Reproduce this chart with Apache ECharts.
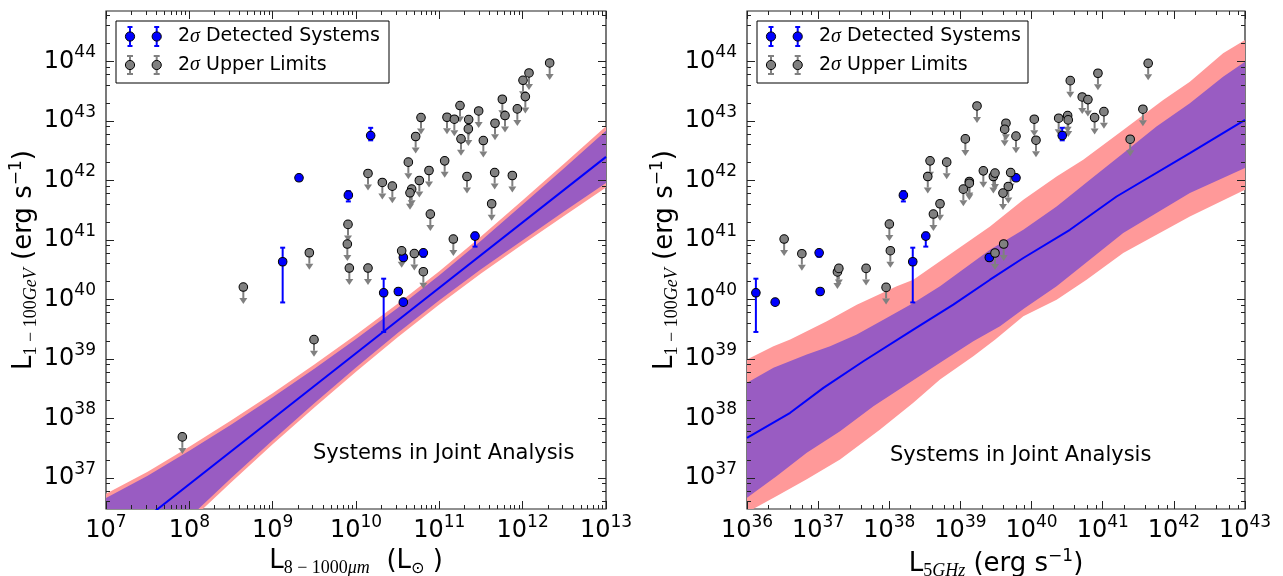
<!DOCTYPE html>
<html><head><meta charset="utf-8">
<script src="https://cdn.jsdelivr.net/npm/echarts@6/dist/echarts.min.js"></script>
<style>html,body{margin:0;padding:0;background:#fff}#c{width:1283px;height:576px}</style>
</head><body><div id="c"></div><script>
// ---------- tick exponents ----------
const xDecadesLeft  = [7, 8, 9, 10, 11, 12, 13];
const xDecadesRight = [36, 37, 38, 39, 40, 41, 42, 43];
const yDecades      = [37, 38, 39, 40, 41, 42, 43, 44];
const yRange = [3e36, 7e44];

// ---------- detected systems (log10 values) ----------
const detLgam   = [42.752, 42.042, 41.751, 41.063, 40.632, 40.703, 40.781, 40.110, 40.132, 39.953];
const detLgamLo = [42.672, 42.022, 41.645, 40.886, 39.948, 40.683, 40.715, 39.452, 40.117, 39.938];
const detLgamHi = [42.882, 42.062, 41.818, 41.120, 40.868, 40.723, 40.801, 40.347, 40.147, 39.968];
const detLir    = [10.176, 9.316, 9.908, 11.428, 9.120, 10.568, 10.808, 10.332, 10.508, 10.568];
const detL5     = [40.431, 39.781, 38.198, 38.513, 38.330, 39.406, 37.014, 36.125, 37.028, 36.396];

// ---------- upper limits, left panel (log10) ----------
const ulLirX = [12.324, 12.076, 12.004, 12.032, 11.756, 11.936, 11.788, 11.668, 11.472, 11.528, 11.248, 11.352,
  11.348, 11.260, 11.092, 11.180, 10.780, 10.716, 10.628, 11.064, 10.876, 10.760, 10.668, 10.648, 11.332, 11.664,
  11.876, 10.144, 10.316, 10.436, 11.628, 10.892, 9.904, 9.896, 9.440, 9.920, 10.144, 10.548, 10.700, 10.808,
  11.168, 8.648, 9.496, 7.916];
const ulLirY = [43.972, 43.804, 43.681, 43.407, 43.362, 43.200, 43.088, 42.959, 43.166, 42.668, 43.256, 43.021,
  42.864, 42.697, 43.060, 43.027, 43.055, 42.736, 42.305, 42.327, 42.165, 41.997, 41.852, 41.790, 42.064, 42.131,
  42.081, 42.115, 41.964, 41.902, 41.606, 41.432, 41.259, 40.929, 40.783, 40.526, 40.526, 40.815, 40.770, 40.464,
  41.013, 40.207, 39.323, 37.689];

// ---------- upper limits, right panel (log10) ----------
const ulL5X = [39.233, 39.069, 38.573, 38.807, 38.541, 39.322, 39.463, 39.486, 39.125, 39.125, 39.041, 38.713,
  38.620, 38.001, 38.015, 36.522, 36.771, 37.271, 37.291, 37.674, 37.955, 39.486, 41.639, 40.933, 40.544, 40.712,
  40.792, 41.017, 40.886, 41.565, 40.381, 40.507, 40.515, 40.038, 40.062, 39.781, 39.640, 39.622, 41.386, 39.706,
  39.673, 39.598, 39.608];
const ulL5Y = [43.250, 42.696, 42.327, 42.305, 42.064, 42.159, 42.064, 42.121, 41.980, 41.952, 41.852, 41.606,
  41.433, 41.265, 40.817, 41.013, 40.767, 40.460, 40.520, 40.520, 40.201, 40.779, 43.966, 43.799, 43.675, 43.401,
  43.356, 43.154, 43.054, 43.195, 43.044, 43.087, 43.015, 43.027, 42.674, 42.742, 42.960, 42.859, 42.691, 42.131,
  41.896, 41.785, 40.930];

// ---------- fit bands, left panel (log10) ----------
const bandLirX  = [7, 7.5, 8, 8.5, 9, 9.5, 10, 10.5, 11, 11.5, 12, 12.5, 13];
const pinkHiL   = [36.734, 37.104, 37.524, 37.964, 38.424, 38.904, 39.404, 39.924, 40.474, 41.054, 41.664, 42.284, 42.909];
const pinkLoL   = [34.854, 35.584, 36.264, 36.924, 37.564, 38.184, 38.784, 39.364, 39.914, 40.434, 40.924, 41.404, 41.879];
const purpHiL   = [36.664, 37.034, 37.454, 37.894, 38.354, 38.834, 39.334, 39.854, 40.404, 40.984, 41.594, 42.209, 42.831];
const purpLoL   = [34.924, 35.654, 36.334, 36.994, 37.634, 38.254, 38.854, 39.434, 39.984, 40.504, 40.994, 41.479, 41.957];
const lineLirX  = [7.0, 10.332, 13.0];
const lineLirY  = [35.794, 39.459, 42.394];

// ---------- fit bands, right panel (log10) ----------
const pinkHiRX = [36.0, 36.372, 36.607, 37.122, 37.543, 38.105, 38.338, 39.416, 39.884, 40.352, 40.726, 41.288, 41.850, 42.225, 42.692, 43.0];
const pinkHiR  = [38.988, 39.212, 39.324, 39.631, 39.911, 40.218, 40.331, 41.225, 41.673, 42.064, 42.344, 42.847, 43.351, 43.658, 44.134, 44.357];
const purpHiRX = [36.0, 36.372, 36.840, 37.168, 37.543, 37.917, 38.338, 38.713, 39.416, 39.884, 40.352, 40.820, 41.288, 41.756, 42.225, 42.692, 43.0];
const purpHiR  = [38.597, 38.849, 39.072, 39.212, 39.408, 39.659, 39.940, 40.218, 40.834, 41.169, 41.560, 42.008, 42.456, 42.903, 43.295, 43.742, 43.993];
const purpLoRX = [36.0, 36.419, 36.840, 37.308, 37.777, 38.245, 38.713, 39.181, 39.556, 39.900, 40.352, 41.288, 42.225, 43.0];
const purpLoR  = [36.668, 37.030, 37.423, 37.785, 38.205, 38.569, 38.933, 39.295, 39.550, 39.850, 40.220, 41.114, 41.785, 42.205];
const pinkLoRX = [36.0, 36.092, 36.419, 36.840, 37.308, 37.871, 38.338, 38.713, 39.181, 39.490, 39.884, 40.352, 40.773, 41.288, 42.225, 43.0];
const pinkLoR  = [36.35, 36.483, 36.695, 36.975, 37.310, 37.814, 38.262, 38.653, 39.044, 39.324, 39.715, 39.995, 40.331, 40.778, 41.393, 41.841];
const lineL5X  = [36.0, 36.607, 37.074, 37.636, 38.338, 38.900, 39.416, 39.884, 40.539, 41.195, 42.225, 43.0];
const lineL5Y  = [37.674, 38.094, 38.513, 38.960, 39.492, 39.911, 40.330, 40.695, 41.169, 41.728, 42.456, 43.015];

// ---------- styling ----------
const FONT = 'DejaVu Sans';
const SERIF = 'Liberation Serif';
const BLUE = '#0000ff', GRAY = '#808080', PINK = '#ff9999', PURPLE = '#995cc2';
const pw = v => Math.pow(10, v);

const chart = echarts.init(document.getElementById('c'), null, {renderer: 'canvas'});

function majors(decs) { return decs.map(pw); }
function minors(decs, subs) {
  const out = [];
  for (let i = 0; i < decs.length - 1; i++) subs.forEach(k => out.push(k * pw(decs[i])));
  subs.forEach(k => { out.push(k * pw(decs[0] - 1)); out.push(k * pw(decs[decs.length - 1])); });
  return out;
}
const tickRich = {
  b: {fontSize: 24, fontFamily: FONT, color: '#000', lineHeight: 34},
  p: {fontSize: 17, fontFamily: FONT, color: '#000', lineHeight: 14, verticalAlign: 'top'}
};
const nameRich = {
  m: {fontSize: 26, fontFamily: FONT, color: '#000', lineHeight: 32},
  s: {fontSize: 18, fontFamily: SERIF, color: '#000', lineHeight: 18, verticalAlign: 'bottom'},
  si: {fontSize: 18, fontFamily: SERIF, fontStyle: 'italic', color: '#000', lineHeight: 18, verticalAlign: 'bottom'},
  sd: {fontSize: 16, fontFamily: FONT, color: '#000', lineHeight: 18, verticalAlign: 'bottom'},
  u: {fontSize: 17, fontFamily: FONT, color: '#000', lineHeight: 24, verticalAlign: 'top'}
};
const fmtPow = v => '{b|10}{p|' + Math.round(Math.log10(v)) + '}';

function axisSet(kind, grid, range, decs, subs, nameCfg) {
  const base = {type: 'log', logBase: 10, gridIndex: grid, min: range[0], max: range[1],
    axisLine: {show: false}, splitLine: {show: false}, minorTick: {show: false}, silent: true, z: 10};
  const posA = kind === 'x' ? 'bottom' : 'left';
  const posB = kind === 'x' ? 'top' : 'right';
  const mj = majors(decs), mn = minors(decs, subs);
  const tick = (vals, len) => ({show: true, inside: true, length: len, customValues: vals,
    lineStyle: {color: '#222', width: 1}});
  const label = {show: true, customValues: mj, formatter: fmtPow, rich: tickRich,
    margin: kind === 'x' ? 5 : 10, showMinLabel: true, showMaxLabel: true};
  return [
    Object.assign({}, base, {position: posA, axisTick: tick(mj, 8), axisLabel: label}, nameCfg),
    Object.assign({}, base, {position: posA, axisTick: tick(mn, 4), axisLabel: {show: false}}),
    Object.assign({}, base, {position: posB, axisTick: tick(mj, 8), axisLabel: {show: false}}),
    Object.assign({}, base, {position: posB, axisTick: tick(mn, 4), axisLabel: {show: false}})
  ];
}

const yName = '{m|L}{s|1 − 100}{si|GeV}{m| (erg s}{u|−1}{m|)}';
const xAxes = [].concat(
  axisSet('x', 0, [1e7, 1e13], xDecadesLeft, [2, 3, 4, 5, 6, 7, 8, 9],
    {name: '{m|L}{s|8 − 1000}{si|μm}{m|  (L}{sd|⊙}{m| )}', nameLocation: 'middle', nameGap: 33,
     nameTextStyle: {rich: nameRich}}),
  axisSet('x', 1, [1e36, 1e43], xDecadesRight, [2, 4, 6, 8],
    {name: '{m|L}{s|5}{si|GHz}{m| (erg s}{u|−1}{m|)}', nameLocation: 'middle', nameGap: 33,
     nameTextStyle: {rich: nameRich}})
);
const yAxes = [].concat(
  axisSet('y', 0, yRange, yDecades, [2, 4, 6, 8],
    {name: yName, nameLocation: 'middle', nameRotate: 90, nameGap: 65, nameTextStyle: {rich: nameRich}}),
  axisSet('y', 1, yRange, yDecades, [2, 4, 6, 8],
    {name: yName, nameLocation: 'middle', nameRotate: 90, nameGap: 66, nameTextStyle: {rich: nameRich}})
);

function bandSeries(xi, yi, layers) {
  return {type: 'custom', xAxisIndex: xi, yAxisIndex: yi, z: 1, silent: true, clip: true,
    data: [[pw(layers[0].xh[layers[0].xh.length - 1]), pw(layers[0].hi[layers[0].hi.length - 1])]],
    renderItem: (params, api) => {
      const cs = params.coordSys;
      const children = layers.map(L => {
        const pts = [];
        L.xh.forEach((x, i) => pts.push(api.coord([pw(x), pw(L.hi[i])])));
        for (let i = L.xl.length - 1; i >= 0; i--) pts.push(api.coord([pw(L.xl[i]), pw(L.lo[i])]));
        return {type: 'polygon', shape: {points: pts}, style: {fill: L.color}};
      });
      return {type: 'group', children,
        clipPath: {type: 'rect', shape: {x: cs.x, y: cs.y, width: cs.width, height: cs.height}}};
    }};
}
function lineSeries(xi, yi, xs, ys) {
  return {type: 'line', xAxisIndex: xi, yAxisIndex: yi, z: 2, silent: true, showSymbol: false,
    data: xs.map((x, i) => [pw(x), pw(ys[i])]), lineStyle: {color: BLUE, width: 2}, animation: false};
}
function arrowSeries(xi, yi, xs, ys) {
  return {type: 'custom', xAxisIndex: xi, yAxisIndex: yi, z: 3, silent: true,
    data: xs.map((x, i) => [pw(x), pw(ys[i])]),
    renderItem: (params, api) => {
      const p = api.coord([api.value(0), api.value(1)]);
      const L = 17, hw = 4, hh = 6;
      return {type: 'group', children: [
        {type: 'line', shape: {x1: p[0], y1: p[1], x2: p[0], y2: p[1] + L - hh}, style: {stroke: GRAY, lineWidth: 2}},
        {type: 'polygon', shape: {points: [[p[0] - hw, p[1] + L - hh], [p[0] + hw, p[1] + L - hh], [p[0], p[1] + L]]},
         style: {fill: GRAY}}
      ]};
    }};
}
function errSeries(xi, yi, xs) {
  return {type: 'custom', xAxisIndex: xi, yAxisIndex: yi, z: 4, silent: true,
    data: xs.map((x, i) => [pw(x), pw(detLgamLo[i]), pw(detLgamHi[i])]),
    encode: {x: 0, y: [1, 2]},
    renderItem: (params, api) => {
      const b = api.coord([api.value(0), api.value(1)]);
      const t = api.coord([api.value(0), api.value(2)]);
      const c = 2.5;
      const st = {stroke: BLUE, lineWidth: 2};
      return {type: 'group', children: [
        {type: 'line', shape: {x1: b[0], y1: b[1], x2: t[0], y2: t[1]}, style: st},
        {type: 'line', shape: {x1: b[0] - c, y1: b[1], x2: b[0] + c, y2: b[1]}, style: st},
        {type: 'line', shape: {x1: t[0] - c, y1: t[1], x2: t[0] + c, y2: t[1]}, style: st}
      ]};
    }};
}
function pointSeries(xi, yi, xs, ys, color, z) {
  return {type: 'scatter', xAxisIndex: xi, yAxisIndex: yi, z, silent: true, symbol: 'circle', symbolSize: 8.6,
    data: xs.map((x, i) => [pw(x), pw(ys[i])]),
    itemStyle: {color, borderColor: '#000', borderWidth: 1, opacity: 1}};
}

const series = [
  bandSeries(0, 0, [
    {xh: bandLirX, hi: pinkHiL, xl: bandLirX, lo: pinkLoL, color: PINK},
    {xh: bandLirX, hi: purpHiL, xl: bandLirX, lo: purpLoL, color: PURPLE}]),
  lineSeries(0, 0, lineLirX, lineLirY),
  arrowSeries(0, 0, ulLirX, ulLirY),
  errSeries(0, 0, detLir),
  pointSeries(0, 0, detLir, detLgam, BLUE, 5),
  pointSeries(0, 0, ulLirX, ulLirY, GRAY, 6),

  bandSeries(4, 4, [
    {xh: pinkHiRX, hi: pinkHiR, xl: pinkLoRX, lo: pinkLoR, color: PINK},
    {xh: purpHiRX, hi: purpHiR, xl: purpLoRX, lo: purpLoR, color: PURPLE}]),
  lineSeries(4, 4, lineL5X, lineL5Y),
  arrowSeries(4, 4, ulL5X, ulL5Y),
  errSeries(4, 4, detL5),
  pointSeries(4, 4, detL5, detLgam, BLUE, 5),
  pointSeries(4, 4, ulL5X, ulL5Y, GRAY, 6)
];

// ---------- legend boxes & annotations ----------
function legendGroup(x0, y0, w, h) {
  const kids = [{type: 'rect', shape: {x: x0, y: y0, width: w, height: h},
    style: {fill: '#fff', stroke: '#000', lineWidth: 1}}];
  const rows = [{y: y0 + 15.5, col: BLUE, half: 9.5, cap: 2.5, label: '{n|2}{g|σ}{n| Detected Systems}'},
                {y: y0 + 44, col: GRAY, half: 9, cap: 3, label: '{n|2}{g|σ}{n| Upper Limits}'}];
  rows.forEach(r => {
    [x0 + 14, x0 + 40.7].forEach(mx => {
      kids.push({type: 'line', shape: {x1: mx, y1: r.y - r.half, x2: mx, y2: r.y + r.half}, style: {stroke: r.col, lineWidth: 2}});
      kids.push({type: 'line', shape: {x1: mx - r.cap, y1: r.y - r.half, x2: mx + r.cap, y2: r.y - r.half}, style: {stroke: r.col, lineWidth: 2}});
      kids.push({type: 'line', shape: {x1: mx - r.cap, y1: r.y + r.half, x2: mx + r.cap, y2: r.y + r.half}, style: {stroke: r.col, lineWidth: 2}});
      kids.push({type: 'circle', shape: {cx: mx, cy: r.y, r: 4.6}, style: {fill: r.col, stroke: '#000', lineWidth: 1}});
    });
    kids.push({type: 'text', x: x0 + 62, y: r.y, style: {text: r.label, verticalAlign: 'middle', align: 'left',
      rich: {n: {fontSize: 19, fontFamily: FONT, fill: '#000'},
             g: {fontSize: 20, fontFamily: SERIF, fontStyle: 'italic', fill: '#000'}}}});
  });
  return {type: 'group', z: 100, children: kids};
}
const graphic = [
  legendGroup(116, 21, 273, 62),
  legendGroup(757, 21, 271, 62),
  {type: 'text', z: 100, x: 313, y: 443, style: {text: 'Systems in Joint Analysis', fontSize: 21, fontFamily: FONT, fill: '#000', verticalAlign: 'top'}},
  {type: 'text', z: 100, x: 890, y: 445, style: {text: 'Systems in Joint Analysis', fontSize: 21, fontFamily: FONT, fill: '#000', verticalAlign: 'top'}}
];

chart.setOption({
  animation: false,
  backgroundColor: '#fff',
  textStyle: {fontFamily: FONT},
  grid: [
    {left: 106, top: 11, width: 500, height: 498, show: true, borderColor: '#222', borderWidth: 1.2, backgroundColor: 'transparent', containLabel: false, outerBoundsMode: 'none'},
    {left: 747, top: 11, width: 498, height: 498, show: true, borderColor: '#222', borderWidth: 1.2, backgroundColor: 'transparent', containLabel: false, outerBoundsMode: 'none'}
  ],
  xAxis: xAxes,
  yAxis: yAxes,
  series,
  graphic
});
</script></body></html>
